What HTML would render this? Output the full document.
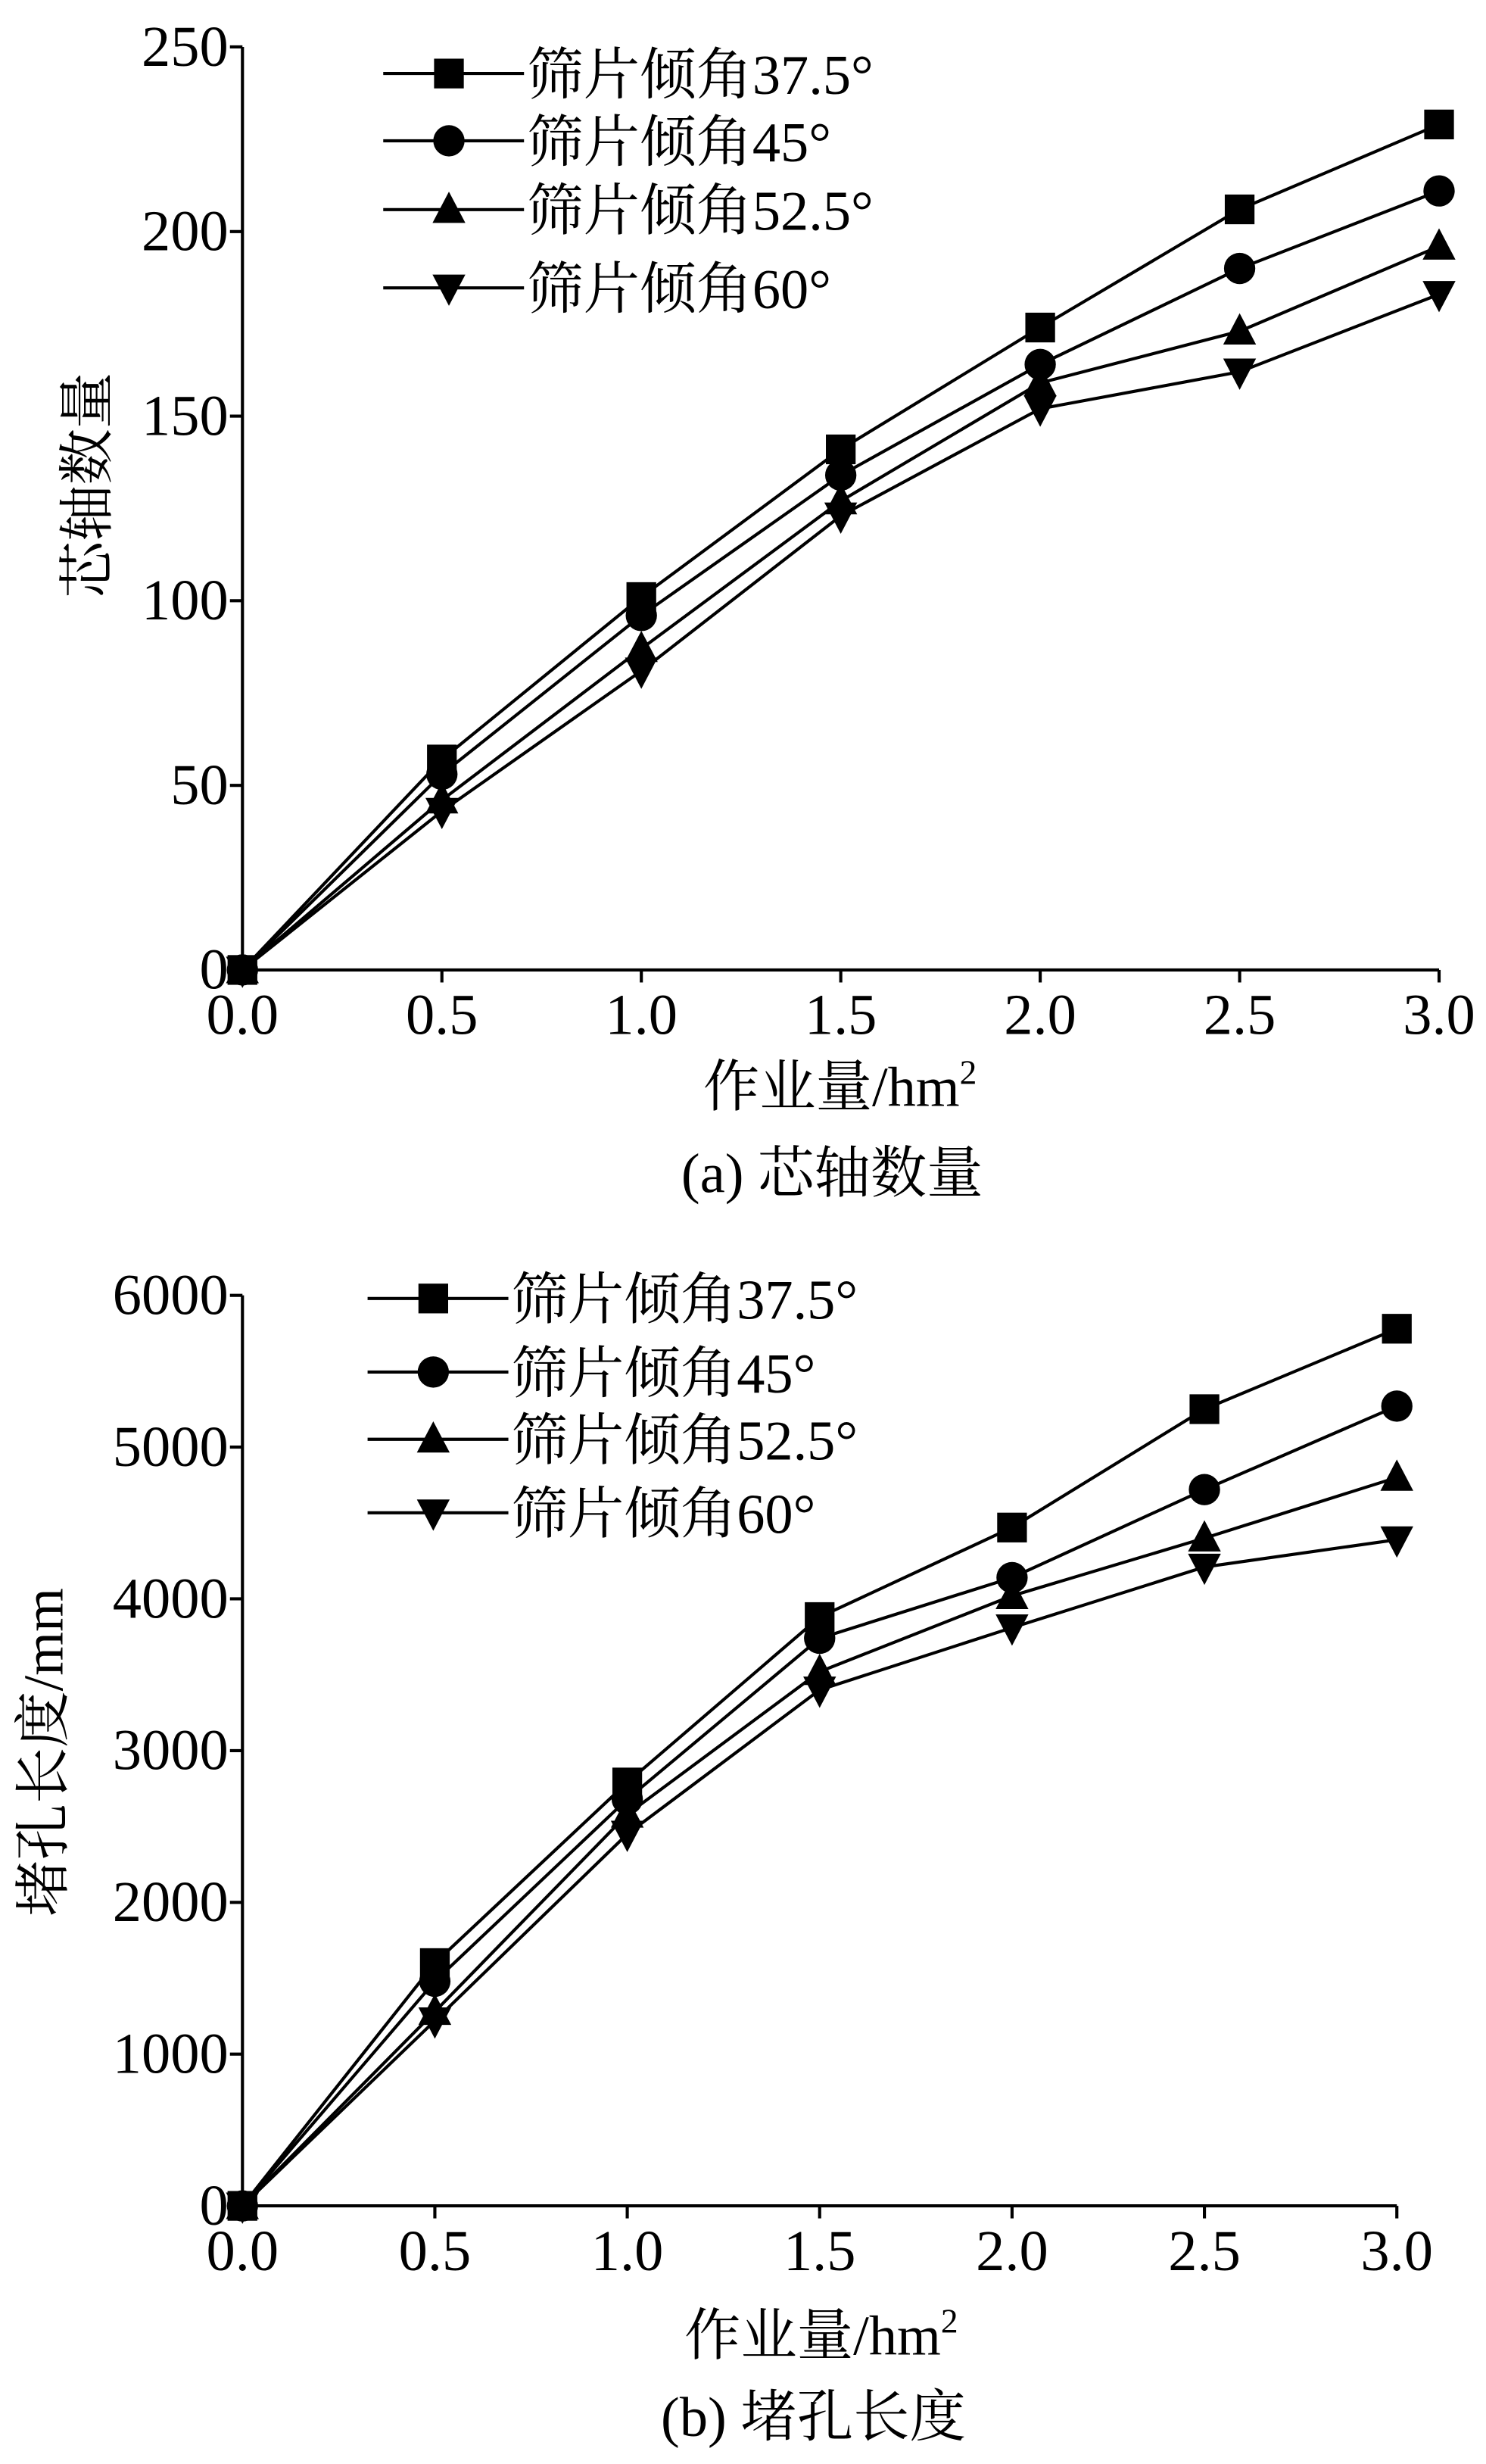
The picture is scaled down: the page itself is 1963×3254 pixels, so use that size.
<!DOCTYPE html>
<html><head><meta charset="utf-8"><style>
html,body{margin:0;padding:0;background:#fff;}
svg{display:block;}
text{font-family:"Liberation Serif","Noto Serif CJK SC","Noto Sans CJK SC",serif;fill:#000;}
</style></head><body>
<svg id="svg" width="1963" height="3254" viewBox="0 0 950 1575" preserveAspectRatio="none" xmlns="http://www.w3.org/2000/svg"></svg>
<script>
const xCats = [0, 0.5, 1.0, 1.5, 2.0, 2.5, 3.0];
const xTickLabels = ["0.0","0.5","1.0","1.5","2.0","2.5","3.0"];
const seriesNames = ["筛片倾角37.5°","筛片倾角45°","筛片倾角52.5°","筛片倾角60°"];
const markers = ["square","circle","up","down"];
const aS1 = [0, 57, 101, 141, 174, 206, 229];
const aS2 = [0, 53, 96, 134, 164, 190, 211];
const aS3 = [0, 46, 87, 127, 159, 173, 196];
const aS4 = [0, 43, 81, 123, 152, 162, 183];
const aTicks = [0, 50, 100, 150, 200, 250];
const bS1 = [0, 1600, 2790, 3880, 4470, 5250, 5780];
const bS2 = [0, 1480, 2680, 3740, 4140, 4720, 5270];
const bS3 = [0, 1280, 2580, 3520, 4020, 4400, 4800];
const bS4 = [0, 1220, 2450, 3400, 3810, 4210, 4390];
const bTicks = [0, 1000, 2000, 3000, 4000, 5000, 6000];

const svg = document.getElementById('svg');
const NS = 'http://www.w3.org/2000/svg';
function mk(tag, attrs, parent){const e=document.createElementNS(NS,tag);for(const k in attrs)e.setAttribute(k,attrs[k]);(parent||svg).appendChild(e);return e;}
function marker(type,x,y,g){
  const s=9.5;
  if(type==='square') return mk('rect',{x:x-s,y:y-s,width:2*s,height:2*s,fill:'#000'},g);
  if(type==='circle') return mk('circle',{cx:x,cy:y,r:s+0.5,fill:'#000'},g);
  if(type==='up') return mk('polygon',{points:`${x},${y-s-2} ${x-s-1},${y+s-1} ${x+s+1},${y+s-1}`,fill:'#000'},g);
  return mk('polygon',{points:`${x},${y+s+2} ${x-s-1},${y-s+1} ${x+s+1},${y-s+1}`,fill:'#000'},g);
}
function chart(cfg){
  const g=mk('g',{});
  
  
  const X=v=>cfg.x0+(v-0)/3*(cfg.x1-cfg.x0);
  const Y=v=>cfg.y0-(v/cfg.ymax)*(cfg.y0-cfg.ytop);
  const ax=mk('path',{d:`M${cfg.x0},${cfg.ytop} L${cfg.x0},${cfg.y0} L${cfg.x1},${cfg.y0}`,stroke:'#000','stroke-width':2,fill:'none'},g);
  
  
  cfg.ticks.forEach(t=>{
    mk('line',{x1:cfg.x0-8,x2:cfg.x0,y1:Y(t),y2:Y(t),stroke:'#000','stroke-width':2},g);
    const tl=mk('text',{x:cfg.x0-9,y:Y(t)+12,'text-anchor':'end','font-size':37},g);
    tl.textContent=t;
    
    
  });
  xCats.forEach((c,i)=>{
    mk('line',{x1:X(c),x2:X(c),y1:cfg.y0,y2:cfg.y0+8,stroke:'#000','stroke-width':2},g);
    const tl=mk('text',{x:X(c),y:cfg.y0+41,'text-anchor':'middle','font-size':37},g);
    tl.textContent=xTickLabels[i];
    
    
  });
  cfg.series.forEach((s,si)=>{
    const sg=mk('g',{},g);
    
    
    mk('polyline',{points:s.map((v,i)=>X(xCats[i])+','+Y(v)).join(' '),fill:'none',stroke:'#000','stroke-width':2},sg);
    s.forEach((v,i)=>marker(markers[si],X(xCats[i]),Y(v),sg));
  });
  seriesNames.forEach((n,i)=>{
    const lg=mk('g',{},g);
    
    
    const ly=cfg.legY[i];
    mk('line',{x1:cfg.legX,x2:cfg.legX+90,y1:ly,y2:ly,stroke:'#000','stroke-width':2},lg);
    marker(markers[i],cfg.legX+42,ly,lg);
    const t=mk('text',{x:cfg.legX+92,y:ly+13,'font-size':36},lg);
    t.textContent=n;
  });
  const yt=mk('text',{x:0,y:0,'text-anchor':'middle','font-size':36,transform:`translate(${cfg.ytX},${cfg.ytY}) rotate(-90)`},g);
  yt.textContent=cfg.ytitle;
  
  
  const xt=mk('text',{x:cfg.xtX,y:cfg.xtY,'text-anchor':'middle','font-size':36},g);
  xt.innerHTML='作业量/hm<tspan font-size="22" dy="-14">2</tspan>';
  
  
  const cp=mk('text',{x:cfg.xtX-5,y:cfg.capY,'text-anchor':'middle','font-size':36},g);
  cp.textContent=cfg.caption;
  
  
}
chart({name:'chart-a',x0:155,x1:920,y0:620,ytop:30,ymax:250,ticks:aTicks,series:[aS1,aS2,aS3,aS4],
  legX:245,legY:[47,90,134,184],ytitle:'芯轴数量',ytX:68,ytY:310,xtX:537,xtY:707,capY:762,caption:'(a) 芯轴数量'});
chart({name:'chart-b',x0:155,x1:893,y0:1410,ytop:828,ymax:6000,ticks:bTicks,series:[bS1,bS2,bS3,bS4],
  legX:235,legY:[830,877,920,967],ytitle:'堵孔长度/mm',ytX:40,ytY:1120,xtX:525,xtY:1505,capY:1557,caption:'(b) 堵孔长度'});
</script>
</body></html>
